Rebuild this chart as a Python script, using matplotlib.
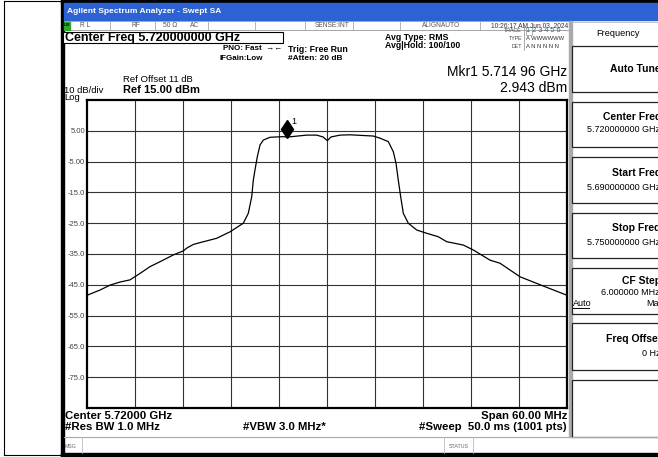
import matplotlib
matplotlib.use("Agg")
import matplotlib.pyplot as plt
from matplotlib.patches import Rectangle
from matplotlib.transforms import offset_copy

plt.rcParams['font.family'] = ['Liberation Sans', 'DejaVu Sans']

# === Datos de la traza (GHz, dBm) ===
freq_ghz = [5.69000, 5.69163, 5.69288, 5.69413, 5.69538, 5.69663, 5.69788,
            5.69913, 5.70079, 5.70204, 5.70246, 5.70329, 5.70413, 5.70621,
            5.70788, 5.70954, 5.71016, 5.71059, 5.71079, 5.71100, 5.71129,
            5.71163, 5.71204, 5.71288, 5.71454, 5.71496, 5.71746, 5.71871,
            5.71950, 5.72004, 5.72050, 5.72163, 5.72288, 5.72579, 5.72663,
            5.72766, 5.72829, 5.72863, 5.72891, 5.72921, 5.72954, 5.73016,
            5.73121, 5.73225, 5.73391, 5.73496, 5.73704, 5.73829, 5.74038,
            5.74163, 5.74413, 5.74704, 5.75000]
level_dbm = [-48.4, -46.7, -45.1, -44.1, -43.4, -41.3, -39.1,
             -37.5, -35.3, -34.0, -33.1, -31.9, -31.3, -29.9,
             -27.8, -25.0, -21.8, -16.4, -11.0, -7.7, -3.4,
             0.4, 2.0, 2.9, 3.1, 2.94, 3.6, 3.6,
             3.0, 1.8, 3.0, 3.6, 3.7, 3.3, 2.6,
             1.5, -1.8, -5.6, -11.0, -16.4, -21.8, -25.0,
             -27.2, -28.1, -29.4, -31.0, -32.1, -33.7, -37.0,
             -38.0, -42.4, -45.4, -48.4]

start_ghz = 5.69
stop_ghz = 5.75
ref_dbm = 15.0
bottom_dbm = -85.0
x_grid = [5.696, 5.702, 5.708, 5.714, 5.720, 5.726, 5.732, 5.738, 5.744]
y_ticks = [5, -5, -15, -25, -35, -45, -55, -65, -75]
y_tick_labels = ["5.00", "-5.00", "-15.0", "-25.0", "-35.0", "-45.0", "-55.0", "-65.0", "-75.0"]
marker_freq = 5.71496
marker_level = 2.943

W, H = 658, 457
fig = plt.figure(figsize=(W / 100, H / 100), dpi=100)
fig.patch.set_facecolor('white')

# fondo en coordenadas de pixel
bg = fig.add_axes([0, 0, 1, 1])
bg.set_xlim(0, W)
bg.set_ylim(H, 0)
bg.axis('off')

# marco exterior fino
bg.plot([4, 4], [1, 455], color='black', lw=0.8)
bg.plot([4, 62], [1, 1], color='black', lw=0.8)
bg.plot([4, 62], [455, 455], color='black', lw=0.8)

# bordes negros de la pantalla
bg.add_patch(Rectangle((61, 0), 3, H, color='black'))
bg.add_patch(Rectangle((61, 0), W, 3, color='black'))
bg.add_patch(Rectangle((61, 453), W, 4, color='black'))

# barra de titulo
bg.add_patch(Rectangle((64, 3), W - 64, 17, color='#2C62D2'))
bg.text(67, 11.5, "Agilent Spectrum Analyzer - Swept SA", color='white',
        fontsize=6, fontweight='bold', va='center')

# fila de estado
bg.add_patch(Rectangle((64, 21), 506, 9, facecolor='white', edgecolor='#999', lw=0.6))
bg.add_patch(Rectangle((64, 21.5), 6, 8, color='#2FA82F'))
bg.text(67, 25.5, "LXI", fontsize=3, va='center', ha='center', color='black', fontweight='bold')
for xs in [110, 155, 208, 255, 305, 353, 400, 480]:
    bg.plot([xs, xs], [21, 30], color='#aaa', lw=0.6)
bg.text(80, 25.5, "R L", fontsize=4.8, va='center', color='#555')
bg.text(132, 25.5, "RF", fontsize=4.8, va='center', color='#555')
bg.text(163, 25.5, "50 Ω", fontsize=4.8, va='center', color='#555')
bg.text(190, 25.5, "AC", fontsize=4.8, va='center', color='#555')
bg.text(315, 25.5, "SENSE:INT", fontsize=4.8, va='center', color='#555')
bg.text(422, 25.5, "ALIGNAUTO", fontsize=4.8, va='center', color='#555')
bg.text(568, 25.5, "10:26:17 AM Jun 03, 2024", fontsize=4.8, va='center', ha='right', color='#333')

# cabecera
bg.add_patch(Rectangle((63, 31.5), 220, 11.5, facecolor='white', edgecolor='black', lw=0.8))
bg.text(65, 37.5, "Center Freq 5.720000000 GHz", fontsize=9, fontweight='bold', va='center')
bg.text(223, 49, "PNO: Fast  →←", fontsize=5.8, fontweight='bold', va='center')
bg.text(220, 58, "IFGain:Low", fontsize=5.8, fontweight='bold', va='center')
bg.text(288, 49, "Trig: Free Run", fontsize=6.3, fontweight='bold', va='center')
bg.text(288, 58, "#Atten: 20 dB", fontsize=6, fontweight='bold', va='center')
bg.text(385, 37, "Avg Type: RMS", fontsize=6.3, fontweight='bold', va='center')
bg.text(385, 45.5, "Avg|Hold: 100/100", fontsize=6.3, fontweight='bold', va='center')

bg.text(522, 31, "TRACE", fontsize=3.8, ha='right', va='center', color='#444')
bg.text(522, 38.5, "TYPE", fontsize=3.8, ha='right', va='center', color='#444')
bg.text(522, 46, "DET", fontsize=3.8, ha='right', va='center', color='#444')
bg.plot([524, 524], [27, 50], color='#999', lw=0.6)
bg.add_patch(Rectangle((525.5, 27), 6, 8, facecolor='none', edgecolor='#999', lw=0.5))
bg.text(526, 31, "1 2 3 4 5 6", fontsize=5.3, va='center', color='#2B6A8A')
bg.text(526, 38.5, "A WWWWWW", fontsize=4.2, va='center', color='#333')
bg.text(526, 46, "A N N N N N", fontsize=4.2, va='center', color='#333')

bg.text(567, 72, "Mkr1 5.714 96 GHz", fontsize=10, ha='right', va='center')
bg.text(567, 88, "2.943 dBm", fontsize=10, ha='right', va='center')
bg.text(123, 80, "Ref Offset 11 dB", fontsize=6.8, va='center')
bg.text(123, 90, "Ref 15.00 dBm", fontsize=8, fontweight='bold', va='center')
bg.text(64, 90.5, "10 dB/div", fontsize=6.8, va='center')
bg.text(64, 98, "Log", fontsize=6.8, va='center')

# pie
bg.text(65, 416, "Center 5.72000 GHz", fontsize=8.2, fontweight='bold', va='center')
bg.text(65, 427, "#Res BW 1.0 MHz", fontsize=8.2, fontweight='bold', va='center')
bg.text(243, 427, "#VBW 3.0 MHz*", fontsize=8.2, fontweight='bold', va='center')
bg.text(567, 416, "Span 60.00 MHz", fontsize=8.2, fontweight='bold', va='center', ha='right')
bg.text(567, 427, "#Sweep  50.0 ms (1001 pts)", fontsize=8.2, fontweight='bold', va='center', ha='right')

# fila MSG / STATUS
bg.plot([64, W], [437, 437], color='#aaa', lw=0.8)
for xs in [82, 444, 473]:
    bg.plot([xs, xs], [437, 453], color='#bbb', lw=0.6)
bg.text(65, 446, "MSG", fontsize=3.8, va='center', color='#666')
bg.text(458.5, 446, "STATUS", fontsize=3.8, va='center', ha='center', color='#666')

# panel de softkeys
bg.add_patch(Rectangle((568.5, 21), 3, 416, color='#aaa'))
bg.plot([572, W], [22, 22], color='#bbb', lw=0.6)
bg.text(618, 33, "Frequency", fontsize=6.6, va='center', ha='center')
boxes = [(46, 92), (102, 147), (157, 203), (213, 258), (268, 314), (323, 370), (380, 437)]
for y0, y1 in boxes:
    bg.add_patch(Rectangle((572, y0), 100, y1 - y0, facecolor='white', edgecolor='#222', lw=0.9))
keys = [("Auto Tune", 69, None, 0), ("Center Freq", 117, "5.720000000 GHz", 130),
        ("Start Freq", 173, "5.690000000 GHz", 187), ("Stop Freq", 228, "5.750000000 GHz", 242.5),
        ("CF Step", 281, "6.000000 MHz", 292.5), ("Freq Offset", 339.5, "0 Hz", 354)]
for titulo, yt, valor, yv in keys:
    bg.text(661, yt, titulo, fontsize=7.5, fontweight='bold', ha='right', va='center')
    if valor:
        bg.text(660, yv, valor, fontsize=6.5, ha='right', va='center')
bg.text(573, 303.5, "Auto", fontsize=6.5, va='center')
bg.plot([573, 589], [308, 308], color='black', lw=0.7)
bg.text(664, 303.5, "Man", fontsize=6.5, ha='right', va='center')

# === Grafico de la traza ===
ax = fig.add_axes([87 / W, 1 - 408 / H, 480 / W, 308 / H])
ax.plot(freq_ghz, level_dbm, color='black', lw=0.9)
ax.set_xlim(start_ghz, stop_ghz)
ax.set_ylim(bottom_dbm, ref_dbm)
ax.set_xticks(x_grid)
ax.set_xticklabels([])
ax.set_yticks(y_ticks, y_tick_labels)
ax.tick_params(length=0, labelsize=5.5, labelcolor='#444', pad=1.5)
ax.grid(True, color='#333', lw=0.8)
for s in ax.spines.values():
    s.set_linewidth(1.6)

# marcador 1
tr = offset_copy(ax.transData, fig=fig, y=8, units='dots')
ax.plot([marker_freq], [marker_level], marker='d', markersize=9.5, color='black',
        transform=tr, clip_on=False)
tr_txt = offset_copy(ax.transData, fig=fig, x=5, y=16, units='dots')
ax.text(marker_freq, marker_level, "1", transform=tr_txt, fontsize=6.5, va='center')

fig.savefig("out.png", dpi=100)
